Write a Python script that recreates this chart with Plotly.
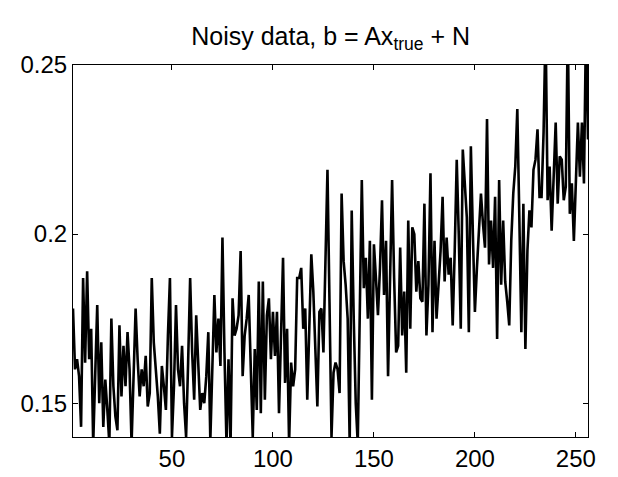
import plotly.graph_objects as go

b_values = [
    0.178, 0.160, 0.163, 0.158, 0.143, 0.187, 0.162, 0.189, 0.163, 0.172,
    0.138, 0.162, 0.179, 0.150, 0.168, 0.143, 0.157, 0.148, 0.138, 0.175,
    0.155, 0.146, 0.142, 0.173, 0.152, 0.167, 0.155, 0.171, 0.160, 0.138,
    0.155, 0.178, 0.163, 0.152, 0.160, 0.155, 0.164, 0.149, 0.153, 0.187,
    0.168, 0.160, 0.152, 0.141, 0.161, 0.155, 0.148, 0.170, 0.187, 0.140,
    0.155, 0.179, 0.160, 0.155, 0.167, 0.150, 0.140, 0.162, 0.187, 0.165,
    0.151, 0.176, 0.160, 0.148, 0.153, 0.150, 0.158, 0.171, 0.139, 0.160,
    0.182, 0.165, 0.175, 0.161, 0.199, 0.165, 0.138, 0.163, 0.137, 0.181,
    0.170, 0.172, 0.176, 0.195, 0.158, 0.170, 0.175, 0.182, 0.160, 0.140,
    0.166, 0.148, 0.186, 0.147, 0.186, 0.151, 0.176, 0.181, 0.163, 0.177,
    0.164, 0.177, 0.147, 0.170, 0.193, 0.156, 0.172, 0.138, 0.162, 0.155,
    0.160, 0.187, 0.187, 0.190, 0.172, 0.178, 0.151, 0.172, 0.194, 0.183,
    0.168, 0.149, 0.177, 0.178, 0.165, 0.190, 0.219, 0.180, 0.140, 0.159,
    0.162, 0.160, 0.153, 0.212, 0.192, 0.185, 0.175, 0.138, 0.207, 0.175,
    0.150, 0.138, 0.180, 0.216, 0.184, 0.193, 0.175, 0.198, 0.151, 0.197,
    0.187, 0.176, 0.190, 0.210, 0.182, 0.198, 0.158, 0.190, 0.216, 0.187,
    0.165, 0.167, 0.196, 0.170, 0.183, 0.159, 0.204, 0.172, 0.202, 0.200,
    0.183, 0.192, 0.181, 0.180, 0.209, 0.170, 0.185, 0.218, 0.171, 0.198,
    0.175, 0.185, 0.195, 0.211, 0.186, 0.199, 0.188, 0.193, 0.173, 0.195,
    0.222, 0.200, 0.172, 0.225, 0.215, 0.205, 0.171, 0.226, 0.200, 0.177,
    0.190, 0.200, 0.212, 0.203, 0.196, 0.234, 0.191, 0.204, 0.190, 0.211,
    0.169, 0.216, 0.185, 0.204, 0.186, 0.180, 0.173, 0.198, 0.212, 0.220,
    0.237, 0.205, 0.171, 0.209, 0.166, 0.195, 0.207, 0.202, 0.219, 0.222,
    0.231, 0.211, 0.211, 0.230, 0.262, 0.210, 0.220, 0.201, 0.215, 0.233,
    0.209, 0.223, 0.222, 0.210, 0.214, 0.262, 0.206, 0.215, 0.198, 0.215,
    0.233, 0.217, 0.233, 0.215, 0.262, 0.228,
]
index = list(range(1, len(b_values) + 1))

x_tick_vals = [50, 100, 150, 200, 250]
y_tick_vals = [0.15, 0.2, 0.25]
y_tick_text = ["0.15", "0.2", "0.25"]

title_text = "Noisy data, b = Ax<sub>true</sub> + N"

font_family = "Liberation Sans, Arial, sans-serif"

fig = go.Figure()
fig.add_trace(go.Scatter(
    x=index, y=b_values, mode="lines",
    line=dict(color="black", width=2.6),
    showlegend=False, hoverinfo="skip",
))

axis_common = dict(
    showline=True, linecolor="black", linewidth=1, mirror="ticks",
    ticks="inside", ticklen=5, tickwidth=1, tickcolor="black",
    showgrid=False, zeroline=False, automargin=False,
    tickfont=dict(family=font_family, size=24, color="black"),
)

fig.update_layout(
    width=618, height=477,
    margin=dict(l=73, r=30, t=65, b=40),
    paper_bgcolor="white", plot_bgcolor="white",
    title=dict(
        text=title_text, x=0.535, xanchor="center",
        y=0.925, yanchor="middle",
        font=dict(family=font_family, size=25, color="black"),
    ),
    xaxis=dict(range=[1, 256], tickvals=x_tick_vals, **axis_common),
    yaxis=dict(range=[0.14, 0.25], tickvals=y_tick_vals,
               ticktext=y_tick_text, **axis_common),
)

fig.write_html("out.html")
